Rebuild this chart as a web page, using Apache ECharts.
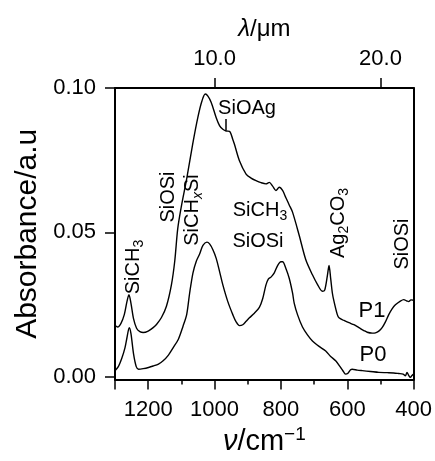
<!DOCTYPE html>
<html>
<head>
<meta charset="utf-8">
<script src="https://cdn.jsdelivr.net/npm/echarts@6/dist/echarts.min.js"></script>
<style>
html,body{margin:0;padding:0;background:#fff;}
#chart{width:435px;height:461px;}
</style>
</head>
<body>
<div id="chart"></div>
<script>
// ---- data ----
var p1Wn  = [1300,1292,1282,1272,1264,1258,1252,1244,1235,1225,1215,1200,1185,1175,1160,1145,1130,1120,1111,1100,1084,1066,1050,1038,1028,1020,1010,995,985,975,965,955,945,940,925,905,890,875,860,845,835,825,815,805,795,785,775,765,745,725,705,690,675,668,660,655,650,645,640,630,625,610,595,580,565,550,540,525,515,505,495,485,475,465,455,440,430,420,415,408,400];
var p1Abs = [0.0178,0.0172,0.0185,0.0215,0.0260,0.0284,0.0255,0.0200,0.0168,0.0156,0.0153,0.0158,0.0170,0.0181,0.0205,0.0244,0.0318,0.0400,0.0512,0.0590,0.0685,0.0805,0.0900,0.0955,0.0979,0.0972,0.0950,0.0897,0.0870,0.0857,0.0851,0.0850,0.0822,0.0805,0.0748,0.0702,0.0688,0.0679,0.0672,0.0668,0.0673,0.0660,0.0645,0.0656,0.0645,0.0620,0.0595,0.0570,0.0490,0.0405,0.0353,0.0320,0.0296,0.0300,0.0350,0.0385,0.0340,0.0290,0.0261,0.0215,0.0204,0.0195,0.0187,0.0180,0.0170,0.0160,0.0154,0.0151,0.0152,0.0158,0.0170,0.0190,0.0215,0.0235,0.0249,0.0262,0.0267,0.0262,0.0260,0.0266,0.0265];
var p0Wn  = [1300,1290,1279,1270,1264,1257,1252,1244,1236,1229,1215,1199,1185,1169,1155,1139,1125,1109,1095,1084,1075,1065,1055,1045,1035,1023,1015,1005,995,985,975,960,945,935,925,915,905,895,880,865,855,845,838,830,820,810,800,795,785,775,765,760,750,735,720,705,685,665,650,635,620,610,605,598,590,585,570,555,530,505,480,460,445,432,425,420,415,410,405,400];
var p0Abs = [0.0021,0.0035,0.0066,0.0100,0.0135,0.0170,0.0150,0.0078,0.0035,0.0026,0.0028,0.0032,0.0037,0.0044,0.0055,0.0075,0.0100,0.0130,0.0175,0.0215,0.0290,0.0360,0.0400,0.0425,0.0455,0.0466,0.0460,0.0440,0.0410,0.0365,0.0318,0.0260,0.0215,0.0190,0.0177,0.0180,0.0192,0.0204,0.0220,0.0240,0.0270,0.0318,0.0338,0.0345,0.0360,0.0385,0.0398,0.0398,0.0375,0.0341,0.0290,0.0255,0.0215,0.0172,0.0145,0.0124,0.0105,0.0089,0.0070,0.0055,0.0032,0.0015,0.0009,0.0012,0.0024,0.0026,0.0023,0.0021,0.0018,0.0015,0.0014,0.0013,0.0011,0.0009,0.0003,0.0015,0.0005,-0.0002,0.0004,0.0009];
var yTicks = [0, 0.05, 0.10];
var topTicksWn = [1000, 500];   // 10.0 um and 20.0 um

function pairs(xs, ys){ return xs.map(function(x,i){ return [x, ys[i]]; }); }

var FONT = 'Liberation Sans, Arial, Helvetica, sans-serif';
var chart = echarts.init(document.getElementById('chart'), null, {renderer:'canvas'});

var axisLineStyle = {color:'#000', width:2};
var sub = {fontSize:14, fontFamily:FONT, color:'#000', verticalAlign:'bottom', lineHeight:26};
var subI = {fontSize:14, fontFamily:FONT, color:'#000', fontStyle:'italic', verticalAlign:'bottom', lineHeight:26};
var main = {fontSize:20, fontFamily:FONT, color:'#000', lineHeight:26};

function label(x, y, text, rot){
  return {
    type:'text', x:x, y:y, rotation: rot ? Math.PI/2 : 0, z:10,
    style:{ text:text, align:'center', verticalAlign:'middle', fontSize:20, fontFamily:FONT, fill:'#000',
      rich:{ m:main, s:sub, si:subI } }
  };
}

var option = {
  backgroundColor:'#fff',
  animation:false,
  grid:{left:115, right:20, top:88, bottom:79, containLabel:false},
  xAxis:[{
    type:'value', min:400, max:1300, inverse:true, interval:200, position:'bottom',
    axisLine:{show:true, onZero:false, lineStyle:axisLineStyle},
    axisTick:{show:true, inside:false, length:10, lineStyle:{color:'#000', width:1.5}},
    minorTick:{show:true, splitNumber:2, length:5, lineStyle:{color:'#000', width:1.5}},
    splitLine:{show:false}, minorSplitLine:{show:false},
    axisLabel:{fontSize:22, color:'#000', fontFamily:FONT, margin:19,
      formatter:function(v){ return String(v); }},
    name:'{i|ν}{n|/cm}{sup|−1}', nameLocation:'middle', nameGap:44,
    nameTextStyle:{fontSize:29, color:'#000', fontFamily:FONT,
      rich:{ i:{fontSize:29, fontStyle:'italic', fontFamily:FONT, color:'#000', lineHeight:32},
             n:{fontSize:29, fontFamily:FONT, color:'#000', lineHeight:32},
             sup:{fontSize:19, fontFamily:FONT, color:'#000', verticalAlign:'top', lineHeight:16} } }
  },{
    type:'value', min:400, max:1300, inverse:true, position:'top',
    axisLine:{show:true, onZero:false, lineStyle:axisLineStyle},
    axisTick:{show:true, inside:false, length:10, customValues:topTicksWn, lineStyle:{color:'#000', width:1.5}},
    axisLabel:{show:true, customValues:topTicksWn, fontSize:22, color:'#000', fontFamily:FONT, margin:18,
      formatter:function(v){ return (10000/v).toFixed(1); }},
    splitLine:{show:false},
    name:'{i|λ}{n|/μm}', nameLocation:'middle', nameGap:47,
    nameTextStyle:{fontSize:24, color:'#000', fontFamily:FONT,
      rich:{ i:{fontSize:24, fontStyle:'italic', fontFamily:FONT, color:'#000'},
             n:{fontSize:24, fontFamily:FONT, color:'#000'} } }
  }],
  yAxis:[{
    type:'value', min:-0.001, max:0.1, position:'left',
    axisLine:{show:true, onZero:false, lineStyle:axisLineStyle},
    axisTick:{show:true, inside:false, length:10, customValues:yTicks, lineStyle:{color:'#000', width:1.5}},
    axisLabel:{customValues:yTicks, fontSize:22, color:'#000', fontFamily:FONT, margin:19,
      formatter:function(v){ return v.toFixed(2); }},
    splitLine:{show:false},
    name:'Absorbance/a.u', nameLocation:'middle', nameGap:72,
    nameTextStyle:{fontSize:30, color:'#000', fontFamily:FONT}
  },{
    type:'value', min:-0.001, max:0.1, position:'right',
    axisLine:{show:true, onZero:false, lineStyle:axisLineStyle},
    axisTick:{show:false}, axisLabel:{show:false}, splitLine:{show:false}
  }],
  series:[{
    name:'P1', type:'line', xAxisIndex:0, yAxisIndex:0, data:pairs(p1Wn,p1Abs),
    showSymbol:false, smooth:0.3, lineStyle:{color:'#000', width:1.4},
    markLine:{silent:true, symbol:['none','none'], label:{show:false},
      lineStyle:{color:'#000', width:1.5, type:'solid'},
      data:[[{coord:[965,0.0853]},{coord:[965,0.0893]}]]}
  },{
    name:'P0', type:'line', xAxisIndex:0, yAxisIndex:0, data:pairs(p0Wn,p0Abs),
    showSymbol:false, smooth:0.3, lineStyle:{color:'#000', width:1.4}
  }],
  graphic:[
    label(133, 267, '{m|SiCH}{s|3}', true),
    label(168, 197, '{m|SiOSi}', true),
    label(192, 210, '{m|SiCH}{si|x}{m|Si}', true),
    label(247, 108, '{m|SiOAg}', false),
    label(260, 210, '{m|SiCH}{s|3}', false),
    label(258, 241, '{m|SiOSi}', false),
    label(338, 223, '{m|Ag}{s|2}{m|CO}{s|3}', true),
    label(402, 244, '{m|SiOSi}', true),
    {type:'text', x:372, y:311, z:10, style:{text:'P1', align:'center', verticalAlign:'middle', fontSize:22, fontFamily:FONT, fill:'#000'}},
    {type:'text', x:373, y:355, z:10, style:{text:'P0', align:'center', verticalAlign:'middle', fontSize:22, fontFamily:FONT, fill:'#000'}}
  ]
};
chart.setOption(option);
</script>
</body>
</html>
